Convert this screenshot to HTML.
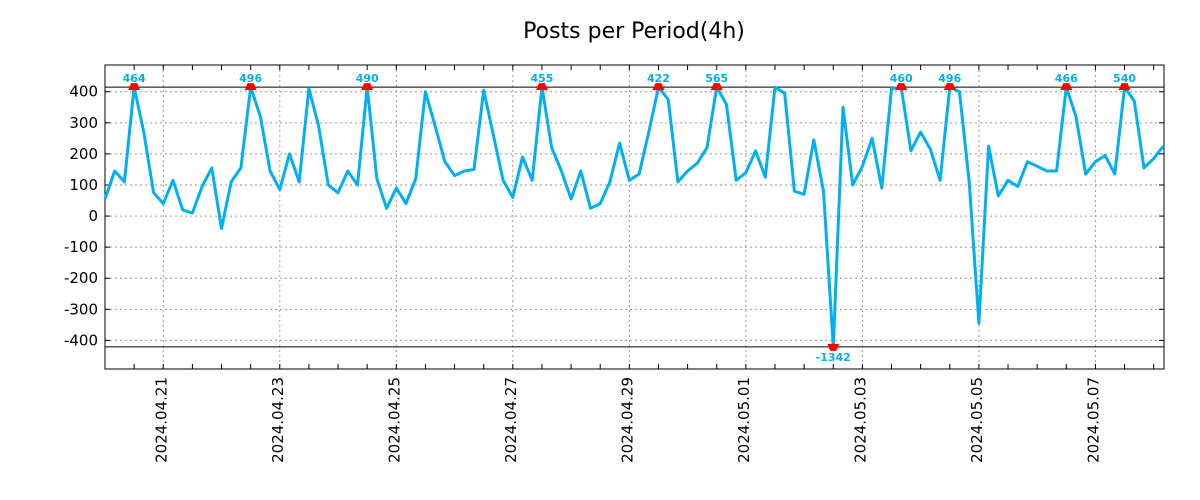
<!DOCTYPE html>
<html><head><meta charset="utf-8"><style>
html,body{margin:0;padding:0;background:#fff;width:1200px;height:500px;overflow:hidden}
svg text{font-family:"DejaVu Sans","Liberation Sans",sans-serif}
</style></head><body>
<svg id="chart" width="1200" height="500" xmlns="http://www.w3.org/2000/svg">
<text x="634" y="38" font-size="22" text-anchor="middle" fill="#000">Posts per Period(4h)</text>
<g id="grid"></g><g id="axes"></g><g id="series"></g><g id="marks"></g>
</svg>
<script>
const values=[55,145,110,464,270,75,40,115,20,10,95,155,-40,110,155,496,320,145,85,200,110,410,290,100,75,145,100,490,120,25,90,40,120,400,290,175,130,145,150,405,260,115,60,190,115,455,220,145,55,145,25,40,110,235,115,135,270,422,375,110,145,170,220,565,360,115,140,210,125,415,395,80,70,245,80,-1342,350,100,160,250,90,410,460,210,270,215,115,496,400,110,-345,225,65,115,95,175,160,145,145,466,320,135,175,195,135,540,370,155,185,225];
const yTicks=[400,300,200,100,0,-100,-200,-300,-400];
const xLabels=["2024.04.21","2024.04.23","2024.04.25","2024.04.27","2024.04.29","2024.05.01","2024.05.03","2024.05.05","2024.05.07"];
const firstLabelIndex=6, labelStep=12, minorStep=3;
const clipHi=415, clipLo=-421;
const L=105,R=1164,T=65,B=369,yMax=486,yMin=-492;
const NS="http://www.w3.org/2000/svg";
const xs=i=>L+i*9.71;
const ys=v=>T+(yMax-v)/(yMax-yMin)*(B-T);
function mk(tag,attrs,parent){const e=document.createElementNS(NS,tag);for(const k in attrs)e.setAttribute(k,attrs[k]);document.getElementById(parent).appendChild(e);return e;}
yTicks.forEach(v=>{const y=ys(v);
 const g=mk('line',{x1:L,x2:R,y1:y,y2:y,stroke:'#999','stroke-dasharray':'2,3','stroke-width':1},'grid');
 
 
 mk('line',{x1:L,x2:L+5,y1:y,y2:y,stroke:'#000'},'axes');
 mk('line',{x1:R-5,x2:R,y1:y,y2:y,stroke:'#000'},'axes');
 const t=mk('text',{x:L-7,y:y+5,'font-size':15,'text-anchor':'end',fill:'#000'},'axes');t.textContent=v;
 
 
});
for(let i=0;i<values.length+2;i+=minorStep){const x=xs(i);if(x>R)break;
 mk('line',{x1:x,x2:x,y1:B,y2:B-5,stroke:'#000'},'axes');mk('line',{x1:x,x2:x,y1:T,y2:T+5,stroke:'#000'},'axes');}
xLabels.forEach((lab,k)=>{const x=xs(firstLabelIndex+k*labelStep);
 const g=mk('line',{x1:x,x2:x,y1:T,y2:B,stroke:'#999','stroke-dasharray':'2,3'},'grid');
 
 
 const t=mk('text',{x:0,y:0,'font-size':15,'text-anchor':'end',fill:'#000',transform:`translate(${x+3},${B+8}) rotate(-90)`},'axes');t.textContent=lab;
 
 
});
[clipHi,clipLo].forEach(v=>{const l=mk('line',{x1:L,x2:R,y1:ys(v),y2:ys(v),stroke:'#000','stroke-width':1},'grid');
 
 });
const fr=mk('rect',{x:L,y:T,width:R-L,height:B-T,fill:'none',stroke:'#000','stroke-width':1},'axes');


const pts=values.map((v,i)=>xs(i).toFixed(1)+','+ys(Math.max(clipLo,Math.min(clipHi,v))).toFixed(1)).join(' ');
const pl=mk('polyline',{points:pts,fill:'none',stroke:'#00b0f0','stroke-width':3,'stroke-linejoin':'round'},'series');


values.forEach((v,i)=>{const x=xs(i);
 if(v>clipHi){const y=ys(clipHi);
  const m=mk('polygon',{points:`${x-6},${y+3} ${x+6},${y+3} ${x+3},${y-4} ${x-3},${y-4}`,fill:'#f00'},'marks');
  
  
  const t=mk('text',{x:x,y:y-5,'font-size':11,'font-weight':'bold','text-anchor':'middle',fill:'#00b0f0','font-family':'Liberation Mono, monospace'},'marks');t.textContent=v;
  
  
 } else if(v<clipLo){const y=ys(clipLo);
  const m=mk('polygon',{points:`${x-6},${y-3} ${x+6},${y-3} ${x+3},${y+4} ${x-3},${y+4}`,fill:'#f00'},'marks');
  
  
  const t=mk('text',{x:x,y:y+14,'font-size':11,'font-weight':'bold','text-anchor':'middle',fill:'#00b0f0','font-family':'Liberation Mono, monospace'},'marks');t.textContent=v;
  
  
 }});
</script>
</body></html>
